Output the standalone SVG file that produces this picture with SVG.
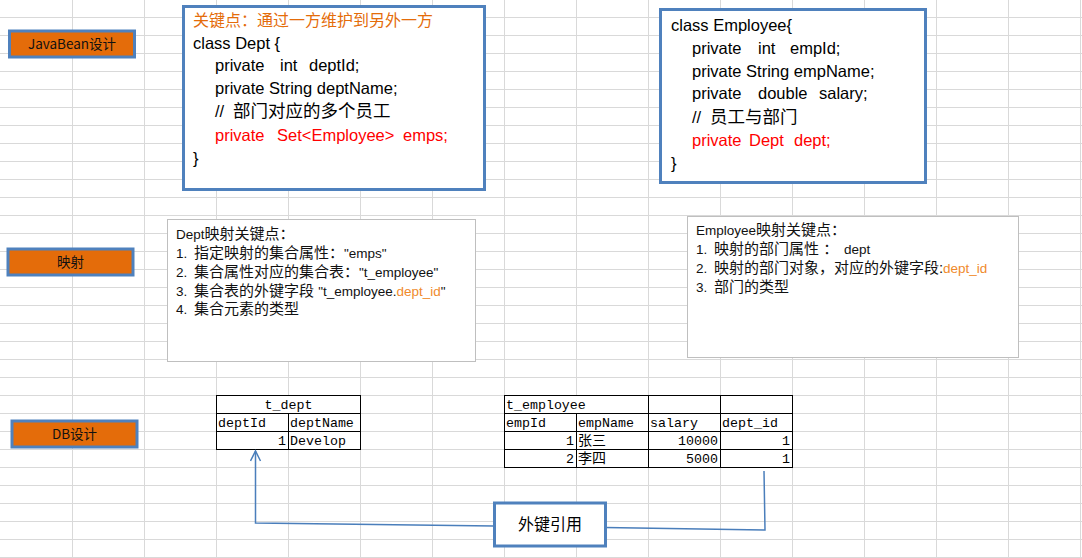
<svg xmlns="http://www.w3.org/2000/svg" width="1082" height="558" viewBox="0 0 1082 558">
<style>
.grid{stroke:#d9d9d9;stroke-width:1;fill:none}
.btn{fill:#E46C0A;stroke:#4F81BD;stroke-width:3}
.btnt{font-family:"Noto Sans CJK SC","Liberation Sans",sans-serif;font-size:13.5px;fill:#111;text-anchor:middle}
.cls{fill:#fff;stroke:#4F81BD;stroke-width:3}
.code{font-family:"Liberation Sans","Noto Sans CJK SC",sans-serif;font-size:16.5px;fill:#000;white-space:pre}
.red{fill:#FF0000}
.or{fill:#E46C0A}
.cj{font-family:"Noto Sans CJK SC",sans-serif;font-size:17.5px}
.map{fill:#fff;stroke:#BFBFBF;stroke-width:1}
.m{font-family:"Liberation Sans","Noto Sans CJK SC",sans-serif;font-size:15px;fill:#111;white-space:pre}
.ml{font-size:13.5px}
.mo{fill:#F08A2C}
.tb{fill:#fff;stroke:#000;stroke-width:1}
.tl{stroke:#000;stroke-width:1}
.tt{font-family:"Liberation Mono","Noto Sans CJK SC",monospace;font-size:13.3px;fill:#000}
.tc{font-family:"Noto Sans CJK SC",sans-serif;font-size:14px;fill:#000}
.r{text-anchor:end}
.conn{fill:none;stroke:#4A7EBB;stroke-width:1.5}
.lbl{fill:#fff;stroke:#4F81BD;stroke-width:3}
.lblt{font-family:"Noto Sans CJK SC",sans-serif;font-size:16px;fill:#000;text-anchor:middle}
</style>
<defs>
<marker id="arr" markerUnits="userSpaceOnUse" markerWidth="14" markerHeight="14" refX="11" refY="6" orient="auto">
<path d="M1,1 L11,6 L1,11" fill="none" stroke="#4A7EBB" stroke-width="1.5"/>
</marker>
</defs>
<rect width="1082" height="558" fill="#fff"/>
<path class="grid" d="M72.5,0V558M144.5,0V558M216.5,0V558M288.5,0V558M360.5,0V558M432.5,0V558M504.5,0V558M576.5,0V558M648.5,0V558M720.5,0V558M792.5,0V558M864.5,0V558M936.5,0V558M1008.5,0V558M1080.5,0V558"/>
<path class="grid" d="M0,17.5H1082M0,35.5H1082M0,53.5H1082M0,71.5H1082M0,89.5H1082M0,107.5H1082M0,125.5H1082M0,143.5H1082M0,161.5H1082M0,179.5H1082M0,197.5H1082M0,215.5H1082M0,233.5H1082M0,251.5H1082M0,269.5H1082M0,287.5H1082M0,305.5H1082M0,323.5H1082M0,341.5H1082M0,359.5H1082M0,377.5H1082M0,395.5H1082M0,413.5H1082M0,431.5H1082M0,449.5H1082M0,467.5H1082M0,485.5H1082M0,503.5H1082M0,521.5H1082M0,539.5H1082M0,557.5H1082"/>

<g id="btn-javabean">
<rect class="btn" x="9.5" y="31" width="125" height="26"/>
<text class="btnt" x="72" y="49">JavaBean设计</text>
</g>
<g id="btn-mapping">
<rect class="btn" x="8" y="249" width="125" height="26"/>
<text class="btnt" x="70.5" y="267">映射</text>
</g>
<g id="btn-db">
<rect class="btn" x="12" y="421" width="125" height="26"/>
<text class="btnt" x="74.5" y="439">DB设计</text>
</g>

<g id="class-dept">
<rect class="cls" x="183.5" y="6.5" width="301" height="183"/>
<text class="code or" x="193" y="26"><tspan class="cj" style="font-size:16px">关键点：通过一方维护到另外一方</tspan></text>
<text class="code" x="193" y="49">class Dept {</text>
<text class="code" y="71"><tspan x="215">private</tspan><tspan x="280">int</tspan><tspan x="309">deptId;</tspan></text>
<text class="code" x="215" y="94">private String deptName;</text>
<text class="code" y="117"><tspan x="215">//</tspan><tspan x="233" class="cj">部门对应的多个员工</tspan></text>
<text class="code red" y="141"><tspan x="215">private</tspan><tspan x="277">Set&lt;Employee&gt;</tspan><tspan x="403">emps;</tspan></text>
<text class="code" x="193" y="164">}</text>
</g>

<g id="class-employee">
<rect class="cls" x="660.5" y="9.5" width="265" height="173"/>
<text class="code" x="671" y="31">class Employee{</text>
<text class="code" y="54"><tspan x="692">private</tspan><tspan x="758">int</tspan><tspan x="790">empId;</tspan></text>
<text class="code" x="692" y="77">private String empName;</text>
<text class="code" y="99"><tspan x="692">private</tspan><tspan x="758">double</tspan><tspan x="819">salary;</tspan></text>
<text class="code" y="123"><tspan x="692">//</tspan><tspan x="710" class="cj">员工与部门</tspan></text>
<text class="code red" y="146"><tspan x="692">private</tspan><tspan x="749">Dept</tspan><tspan x="794">dept;</tspan></text>
<text class="code" x="671" y="169">}</text>
</g>

<g id="map-dept">
<rect class="map" x="167.5" y="219.5" width="308" height="142"/>
<text class="m" x="176" y="239"><tspan class="ml">Dept</tspan>映射关键点：</text>
<text class="m" y="258"><tspan class="ml" x="176">1.</tspan><tspan x="194">指定映射的集合属性：</tspan><tspan class="ml">"emps"</tspan></text>
<text class="m" y="277"><tspan class="ml" x="176">2.</tspan><tspan x="194">集合属性对应的集合表：</tspan><tspan class="ml">"t_employee"</tspan></text>
<text class="m" y="296"><tspan class="ml" x="176">3.</tspan><tspan x="194">集合表的外键字段 </tspan><tspan class="ml">"t_employee.</tspan><tspan class="ml mo">dept_id</tspan><tspan class="ml">"</tspan></text>
<text class="m" y="314"><tspan class="ml" x="176">4.</tspan><tspan x="194">集合元素的类型</tspan></text>
</g>

<g id="map-employee">
<rect class="map" x="687.5" y="216.5" width="331" height="141"/>
<text class="m" x="696" y="235"><tspan class="ml">Employee</tspan>映射关键点：</text>
<text class="m" y="254"><tspan class="ml" x="696">1.</tspan><tspan x="714">映射的部门属性 ：</tspan><tspan class="ml" x="844">dept</tspan></text>
<text class="m" y="273"><tspan class="ml" x="696">2.</tspan><tspan x="714">映射的部门对象，对应的外键字段:</tspan><tspan class="ml mo" x="943">dept_id</tspan></text>
<text class="m" y="292"><tspan class="ml" x="696">3.</tspan><tspan x="714">部门的类型</tspan></text>
</g>

<g id="table-t_dept">
<rect class="tb" x="216.5" y="395.5" width="144" height="54"/>
<path class="tl" d="M216.5,413.5H360.5M216.5,431.5H360.5M288.5,413.5V449.5"/>
<text class="tt" x="288.5" y="409" text-anchor="middle">t_dept</text>
<text class="tt" x="218" y="427">deptId</text>
<text class="tt" x="290" y="427">deptName</text>
<text class="tt r" x="286" y="445">1</text>
<text class="tt" x="290" y="445">Develop</text>
</g>

<g id="table-t_employee">
<rect class="tb" x="504.5" y="395.5" width="288" height="72"/>
<path class="tl" d="M504.5,413.5H792.5M504.5,431.5H792.5M504.5,449.5H792.5M576.5,413.5V467.5M648.5,395.5V467.5M720.5,395.5V467.5"/>
<text class="tt" x="506" y="409">t_employee</text>
<text class="tt" x="506" y="427">empId</text>
<text class="tt" x="578" y="427">empName</text>
<text class="tt" x="650" y="427">salary</text>
<text class="tt" x="722" y="427">dept_id</text>
<text class="tt r" x="574" y="445">1</text>
<text class="tc" x="578" y="445">张三</text>
<text class="tt r" x="718" y="445">10000</text>
<text class="tt r" x="790" y="445">1</text>
<text class="tt r" x="574" y="463">2</text>
<text class="tc" x="578" y="463">李四</text>
<text class="tt r" x="718" y="463">5000</text>
<text class="tt r" x="790" y="463">1</text>
</g>

<g id="connectors">
<path class="conn" d="M494,526 L255.5,523 L255.5,451" marker-end="url(#arr)"/>
<path class="conn" d="M605,527.5 L765,530 L764,471"/>
</g>

<g id="label-fk">
<rect class="lbl" x="494.5" y="503" width="111" height="43"/>
<text class="lblt" x="550" y="530">外键引用</text>
</g>
</svg>
